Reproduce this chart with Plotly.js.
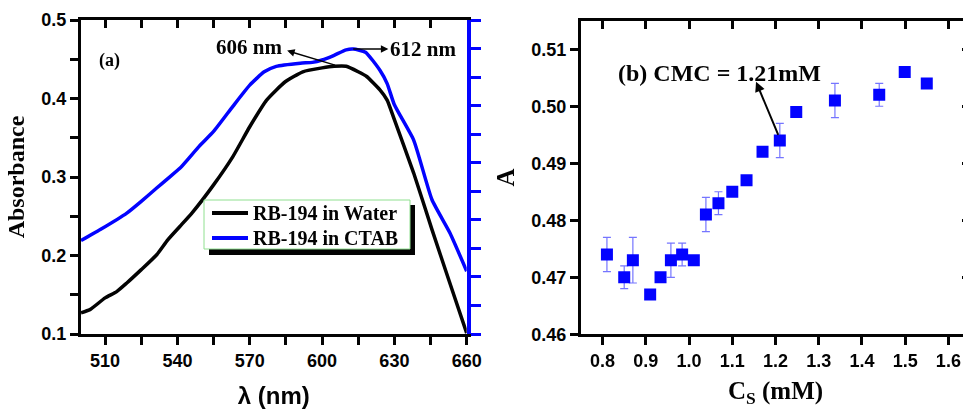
<!DOCTYPE html>
<html>
<head>
<meta charset="utf-8">
<script src="https://cdn.plot.ly/plotly-3.0.1.min.js"></script>
<style>
html,body{margin:0;padding:0;overflow:hidden;background:#fff;}
#chart{width:980px;height:409px;}
#veil{position:absolute;left:0;top:0;width:963px;height:409px;font:9px monospace;white-space:pre;color:rgba(0,0,0,0);background:rgba(255,255,255,0.01);pointer-events:none;}
</style>
</head>
<body>
<div id="chart"></div>
<div id="veil"></div>
<script>
// Panel (a): absorbance spectra
const waterLambda = [500,503.7,510,514.8,519,525,531.4,536,541,546,555,563,570,577,584.6,592,600,605,610,615,618.5,624,627,630,638,645.6,653,660];
const waterAbs    = [0.127,0.131,0.146,0.154,0.165,0.182,0.201,0.220,0.237,0.254,0.290,0.326,0.364,0.398,0.421,0.434,0.439,0.441,0.441,0.434,0.428,0.411,0.398,0.373,0.305,0.233,0.165,0.101];
const ctabLambda  = [500,508,519,525,531.4,536,541,549,555,563,570,576,581,591,596,600,605,610,613,618,624,627,630,638,645.6,653,660];
const ctabAbs     = [0.219,0.233,0.254,0.269,0.286,0.298,0.311,0.339,0.358,0.390,0.417,0.434,0.441,0.445,0.446,0.449,0.455,0.462,0.463,0.459,0.436,0.419,0.392,0.347,0.271,0.229,0.180];
const seriesNames = ["RB-194 in Water","RB-194 in CTAB"];
const seriesColors = ["#000000","#0000ff"];
const waveTicks    = [510,525,540,555,570,585,600,615,630,645,660];
const waveTickText = ["510","","540","","570","","600","","630","","660"];
const absTicks     = [0.1,0.15,0.2,0.25,0.3,0.35,0.4,0.45,0.5];
const absTickText  = ["0.1","","0.2","","0.3","","0.4","","0.5"];

// Panel (b): A vs surfactant concentration
const cs   = [0.81,0.85,0.87,0.91,0.934,0.958,0.984,1.011,1.039,1.068,1.10,1.133,1.17,1.21,1.248,1.3375,1.44,1.499,1.55];
const aVal = [0.474,0.470,0.473,0.467,0.470,0.473,0.474,0.473,0.481,0.483,0.485,0.487,0.492,0.494,0.499,0.501,0.502,0.506,0.504];
const aErr = [0.003,0.002,0.004,0,0,0.003,0.002,0,0.003,0.002,0,0,0,0.003,0,0.003,0.002,0,0];

const W = 980, H = 409;
const px = v => v / W;
const py = v => 1 - v / H;
const BLACK = "#000000";

const tickFont = {family:"Liberation Sans, Arial, sans-serif", size:18, color:BLACK, weight:"bold"};
const serifBold = (s) => ({family:"Liberation Serif, Times New Roman, serif", size:s, color:BLACK, weight:"bold"});

const traces = [
  {x: waterLambda, y: waterAbs, name: seriesNames[0], type:"scatter", mode:"lines",
   line:{color:seriesColors[0], width:3.5, shape:"spline", smoothing:0.5}, xaxis:"x", yaxis:"y"},
  {x: ctabLambda, y: ctabAbs, name: seriesNames[1], type:"scatter", mode:"lines",
   line:{color:seriesColors[1], width:3.5, shape:"spline", smoothing:0.5}, xaxis:"x", yaxis:"y"},
  // invisible companions so the mirrored frame axes get drawn
  {x: waterLambda, y: waterAbs, type:"scatter", mode:"lines", opacity:0, xaxis:"x3", yaxis:"y"},
  {x: waterLambda, y: waterAbs, type:"scatter", mode:"lines", opacity:0, xaxis:"x", yaxis:"y2"},
  {x: cs, y: aVal, type:"scatter", mode:"markers",
   marker:{symbol:"square", size:12, color:"#0000ff"},
   error_y:{type:"data", array:aErr, visible:true, color:"rgba(70,70,255,0.75)", thickness:1.2, width:4},
   xaxis:"x2", yaxis:"y3"},
  {x: cs, y: aVal, type:"scatter", mode:"markers", opacity:0, xaxis:"x4", yaxis:"y3"},
  {x: cs, y: aVal, type:"scatter", mode:"markers", opacity:0, xaxis:"x2", yaxis:"y4"}
];

const axBase = {showgrid:false, zeroline:false, showline:true, linecolor:BLACK, linewidth:3,
  tickcolor:BLACK, tickwidth:3, ticklen:8, tickfont:tickFont, fixedrange:true};

const layout = {
  width: W, height: H,
  margin:{l:0, r:0, t:0, b:0},
  paper_bgcolor:"#ffffff", plot_bgcolor:"rgba(255,255,255,0)",
  showlegend:false,
  xaxis: Object.assign({}, axBase, {domain:[px(81), px(466.7)], anchor:"y", range:[500,660],
    tickmode:"array", tickvals:waveTicks, ticktext:waveTickText, ticks:"outside",
    title:{text:"λ (nm)", font:{family:"Liberation Sans, Arial, sans-serif", size:24, color:BLACK, weight:"bold"}, standoff:18}}),
  xaxis3: Object.assign({}, axBase, {overlaying:"x", side:"top", anchor:"y", range:[500,660],
    tickmode:"array", tickvals:waveTicks.slice(0, waveTicks.length - 1), ticks:"inside", showticklabels:false}),
  yaxis: Object.assign({}, axBase, {domain:[py(334), py(20)], anchor:"x", range:[0.1,0.5],
    tickmode:"array", tickvals:absTicks, ticktext:absTickText, ticks:"outside",
    title:{text:"Absorbance", font:serifBold(24), standoff:10}}),
  yaxis2: Object.assign({}, axBase, {overlaying:"y", side:"right", anchor:"x", range:[0,11],
    tickmode:"linear", tick0:0, dtick:1, ticks:"outside", showticklabels:false,
    linecolor:"#0000ff", linewidth:4, tickcolor:"#0000ff", ticklen:10}),
  xaxis2: Object.assign({}, axBase, {domain:[px(581), px(970)], anchor:"y3", range:[0.75,1.65],
    tickmode:"linear", tick0:0.8, dtick:0.1, ticks:"outside", tickformat:".1f",
    title:{text:"C<sub>S</sub> (mM)", font:serifBold(25), standoff:12}}),
  xaxis4: Object.assign({}, axBase, {overlaying:"x2", side:"top", anchor:"y3", range:[0.75,1.65],
    tickmode:"linear", tick0:0.8, dtick:0.1, ticks:"inside", showticklabels:false}),
  yaxis3: Object.assign({}, axBase, {domain:[py(334.3), py(20.7)], anchor:"x2", range:[0.46,0.515],
    tickmode:"linear", tick0:0.46, dtick:0.01, ticks:"outside", tickformat:".2f",
    title:{text:"A", font:serifBold(25), standoff:10}}),
  yaxis4: Object.assign({}, axBase, {overlaying:"y3", side:"right", anchor:"x2", range:[0.46,0.515],
    tickmode:"linear", tick0:0.46, dtick:0.01, ticks:"inside", showticklabels:false}),
  shapes:[
    // legend drop shadow and box
    {type:"rect", xref:"paper", yref:"paper", x0:px(209), x1:px(415), y0:py(255), y1:py(205),
     fillcolor:BLACK, line:{width:0}, layer:"above"},
    {type:"rect", xref:"paper", yref:"paper", x0:px(204), x1:px(410), y0:py(249), y1:py(200),
     fillcolor:"#ffffff", line:{width:1, color:"#8fe08f"}, layer:"above"},
    // legend line samples
    {type:"line", xref:"paper", yref:"paper", x0:px(212), x1:px(248), y0:py(213), y1:py(213),
     line:{width:4, color:seriesColors[0]}, layer:"above"},
    {type:"line", xref:"paper", yref:"paper", x0:px(212), x1:px(248), y0:py(238), y1:py(238),
     line:{width:4, color:seriesColors[1]}, layer:"above"}
  ],
  annotations:[
    {xref:"paper", yref:"paper", x:px(251), y:py(213), xanchor:"left", yanchor:"middle",
     text:seriesNames[0], showarrow:false, font:serifBold(20)},
    {xref:"paper", yref:"paper", x:px(251), y:py(238), xanchor:"left", yanchor:"middle",
     text:seriesNames[1], showarrow:false, font:serifBold(20)},
    {xref:"x", yref:"y", x:512, y:0.449, text:"(a)", showarrow:false, font:serifBold(18)},
    {xref:"x", yref:"y", x:569.7, y:0.4656, text:"606 nm", showarrow:false, font:serifBold(21)},
    {xref:"x", yref:"y", x:641.9, y:0.463, text:"612 nm", showarrow:false, font:serifBold(21)},
    {xref:"x", yref:"y", x:585.5, y:0.461, axref:"x", ayref:"y", ax:606, ay:0.4419, text:"",
     showarrow:true, arrowhead:2, arrowsize:1, arrowwidth:1.5, arrowcolor:BLACK, standoff:0, startstandoff:0},
    {xref:"x", yref:"y", x:627.5, y:0.463, axref:"x", ayref:"y", ax:612.3, ay:0.463, text:"",
     showarrow:true, arrowhead:2, arrowsize:1, arrowwidth:1.5, arrowcolor:BLACK, standoff:0, startstandoff:0},
    {xref:"x2", yref:"y3", x:1.0706, y:0.5058, text:"(b) CMC = 1.21mM", showarrow:false, font:serifBold(24)},
    {xref:"x2", yref:"y3", x:1.155, y:0.5043, axref:"x2", ayref:"y3", ax:1.2078, ay:0.4947, text:"",
     showarrow:true, arrowhead:2, arrowsize:1, arrowwidth:2, arrowcolor:BLACK, standoff:0, startstandoff:0}
  ]
};

Plotly.newPlot("chart", traces, layout, {staticPlot:true}).then(() => {
  let n = 0;
  document.querySelectorAll("#chart path").forEach(p => {
    const c = p.getAttribute("class") || "";
    if (/lines|tick/.test(c)) { n += (p.getAttribute("d") || "").length + (p.getAttribute("style") || "").length; }
  });
  const gd = document.getElementById("chart");
  const veil = document.getElementById("veil");
  veil.textContent = " " + (gd._fullLayout ? "" : "") + (n > 0 ? "" : "");
  void document.body.offsetHeight;
}).catch(() => {});
</script>
</body>
</html>
